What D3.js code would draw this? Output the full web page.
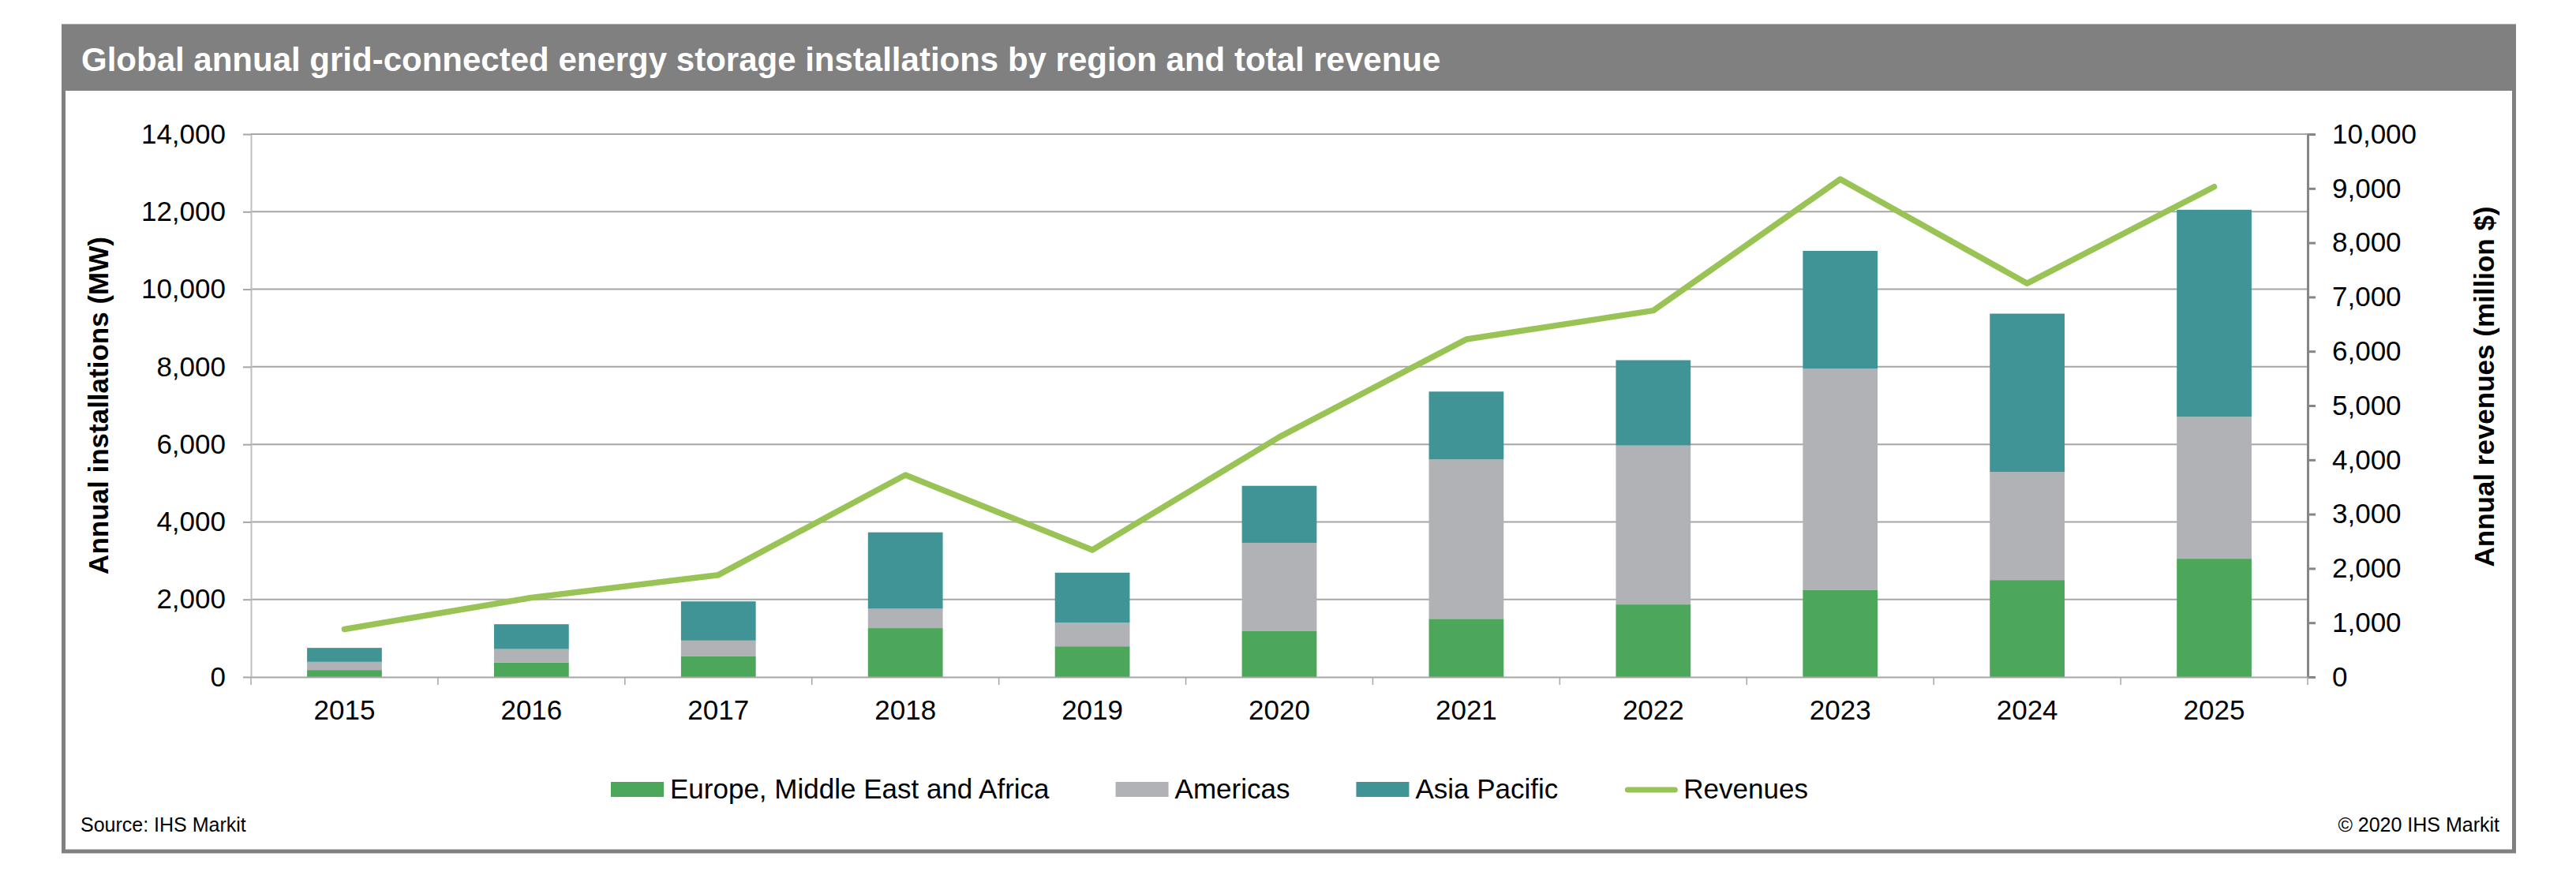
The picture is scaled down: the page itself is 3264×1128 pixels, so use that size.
<!DOCTYPE html>
<html>
<head>
<meta charset="utf-8">
<script src="https://cdn.jsdelivr.net/npm/d3@7"></script>
<style>
  body { margin: 0; background: #fff; }
  text { font-family: "Liberation Sans", Arial, sans-serif; }
</style>
</head>
<body>
<svg id="chart" width="3264" height="1128"></svg>
<script>
// data
var years = ["2015", "2016", "2017", "2018", "2019", "2020", "2021", "2022", "2023", "2024", "2025"];
var emea = [180, 370, 530, 1260, 790, 1180, 1500, 1870, 2240, 2500, 3050];
var americas = [210, 350, 410, 500, 610, 2280, 4110, 4100, 5710, 2790, 3660];
var asiaPacific = [360, 640, 1010, 1970, 1290, 1470, 1750, 2200, 3040, 4080, 5340];
var revenues = [880, 1460, 1880, 3720, 2340, 4420, 6220, 6750, 9170, 7250, 9030];

var leftTicks = [0, 2000, 4000, 6000, 8000, 10000, 12000, 14000];
var rightTicks = [0, 1000, 2000, 3000, 4000, 5000, 6000, 7000, 8000, 9000, 10000];
var seriesNames = ["Europe, Middle East and Africa", "Americas", "Asia Pacific"];
var lineName = "Revenues";

var title = "Global annual grid-connected energy storage installations by region and total revenue";
var leftTitle = "Annual installations (MW)";
var rightTitle = "Annual revenues (million $)";
var source = "Source: IHS Markit";
var copyright = "\u00a9 2020 IHS Markit";

var colors = ["#4ca75a", "#b1b2b5", "#409496"];
var lineColor = "#99c455";

var svg = d3.select("#chart");

// frame + title bar
svg.append("rect")
  .attr("x", 80.5).attr("y", 33)
  .attr("width", 3105).attr("height", 1046)
  .attr("fill", "#fff")
  .attr("stroke", "#808080")
  .attr("stroke-width", 5);
svg.append("rect")
  .attr("x", 78).attr("y", 31)
  .attr("width", 3110).attr("height", 84)
  .attr("fill", "#808080");
svg.append("text")
  .attr("x", 103).attr("y", 90)
  .attr("fill", "#fff")
  .style("font-size", "42px")
  .style("font-weight", "bold")
  .text(title);

// plot area
var plotL = 318, plotR = 2924, plotT = 170, plotB = 858;

var x = d3.scaleBand().domain(years).range([plotL, plotR]).padding(0);
var yLeft = d3.scaleLinear().domain([0, 14000]).range([plotB, plotT]);
var yRight = d3.scaleLinear().domain([0, 10000]).range([plotB, plotT]);

// gridlines
svg.append("g")
  .selectAll("line")
  .data(leftTicks.filter(function (d) { return d > 0; }))
  .enter()
  .append("line")
  .attr("x1", plotL).attr("x2", plotR)
  .attr("y1", function (d) { return yLeft(d); })
  .attr("y2", function (d) { return yLeft(d); })
  .attr("stroke", "#a6a6a6")
  .attr("stroke-width", 2);

// stacked bars
var table = years.map(function (y, i) {
  return { year: y, s0: emea[i], s1: americas[i], s2: asiaPacific[i] };
});
var stack = d3.stack().keys(["s0", "s1", "s2"])(table);
var barW = x.bandwidth() * 0.4;

svg.append("g")
  .selectAll("g")
  .data(stack)
  .enter()
  .append("g")
  .attr("fill", function (d, i) { return colors[i]; })
  .selectAll("rect")
  .data(function (d) { return d; })
  .enter()
  .append("rect")
  .attr("x", function (d) { return x(d.data.year) + (x.bandwidth() - barW) / 2; })
  .attr("y", function (d) { return yLeft(d[1]); })
  .attr("width", barW)
  .attr("height", function (d) { return yLeft(d[0]) - yLeft(d[1]); });

// left axis
var gl = svg.append("g")
  .attr("transform", "translate(" + plotL + ",0)")
  .call(d3.axisLeft(yLeft).tickValues(leftTicks).tickSize(10).tickSizeOuter(0)
    .tickPadding(22).tickFormat(d3.format(",")));
gl.select(".domain").attr("stroke", "#bfbfbf").attr("stroke-width", 2);
gl.selectAll(".tick line").attr("stroke", "#a6a6a6").attr("stroke-width", 2);
gl.selectAll("text").style("font-size", "35px").attr("fill", "#000")
  .style("font-family", "'Liberation Sans', Arial, sans-serif");

// right axis
var gr = svg.append("g")
  .attr("transform", "translate(" + plotR + ",0)")
  .call(d3.axisRight(yRight).tickValues(rightTicks).tickSize(10).tickSizeOuter(0)
    .tickPadding(21).tickFormat(d3.format(",")));
gr.select(".domain").attr("stroke", "#868686").attr("stroke-width", 3);
gr.selectAll(".tick line").attr("stroke", "#868686").attr("stroke-width", 3);
gr.selectAll("text").style("font-size", "35px").attr("fill", "#000")
  .style("font-family", "'Liberation Sans', Arial, sans-serif");

// bottom axis: labels centred, ticks at band edges
var gb = svg.append("g")
  .attr("transform", "translate(0," + plotB + ")")
  .call(d3.axisBottom(x).tickSize(0).tickSizeOuter(0));
gb.select(".domain").attr("stroke", "#a6a6a6").attr("stroke-width", 2);
gb.selectAll("text")
  .attr("y", 54).attr("dy", null)
  .attr("fill", "#000")
  .style("font-size", "35px")
  .style("font-family", "'Liberation Sans', Arial, sans-serif");
gb.selectAll(".edge")
  .data(years.map(function (y) { return x(y); }).concat([plotR]))
  .enter()
  .append("line")
  .attr("class", "edge")
  .attr("x1", function (d) { return d; })
  .attr("x2", function (d) { return d; })
  .attr("y1", 0).attr("y2", 10)
  .attr("stroke", "#a6a6a6")
  .attr("stroke-width", 1.5);

// revenue line
var line = d3.line()
  .x(function (d, i) { return x(years[i]) + x.bandwidth() / 2; })
  .y(function (d) { return yRight(d); });
svg.append("path")
  .datum(revenues)
  .attr("d", line)
  .attr("fill", "none")
  .attr("stroke", lineColor)
  .attr("stroke-width", 7.5)
  .attr("stroke-linecap", "round")
  .attr("stroke-linejoin", "round");

// axis titles
svg.append("text")
  .attr("transform", "translate(137," + ((plotT + plotB) / 2) + ") rotate(-90)")
  .attr("text-anchor", "middle")
  .style("font-size", "35px")
  .style("font-weight", "bold")
  .text(leftTitle);
svg.append("text")
  .attr("transform", "translate(3160,490) rotate(-90)")
  .attr("text-anchor", "middle")
  .style("font-size", "35px")
  .style("font-weight", "bold")
  .text(rightTitle);

// legend
var lx = 774, ly = 1000;
var legendItems = seriesNames.map(function (n, i) { return { name: n, color: colors[i], type: "box" }; })
  .concat([{ name: lineName, color: lineColor, type: "line" }]);
legendItems.forEach(function (item) {
  var g = svg.append("g").attr("transform", "translate(" + lx + "," + ly + ")");
  if (item.type === "box") {
    g.append("rect").attr("x", 0).attr("y", -9).attr("width", 67).attr("height", 19).attr("fill", item.color);
  } else {
    g.append("line").attr("x1", 4).attr("x2", 64).attr("y1", 1).attr("y2", 1)
      .attr("stroke", item.color).attr("stroke-width", 7).attr("stroke-linecap", "round");
  }
  var t = g.append("text").attr("x", 75).attr("y", 12)
    .style("font-size", "35px").text(item.name);
  lx += 75 + t.node().getComputedTextLength() + 84;
});

// footer
svg.append("text")
  .attr("x", 102).attr("y", 1054)
  .style("font-size", "25px")
  .text(source);
svg.append("text")
  .attr("x", 3167).attr("y", 1054)
  .attr("text-anchor", "end")
  .style("font-size", "25px")
  .text(copyright);
</script>
</body>
</html>
